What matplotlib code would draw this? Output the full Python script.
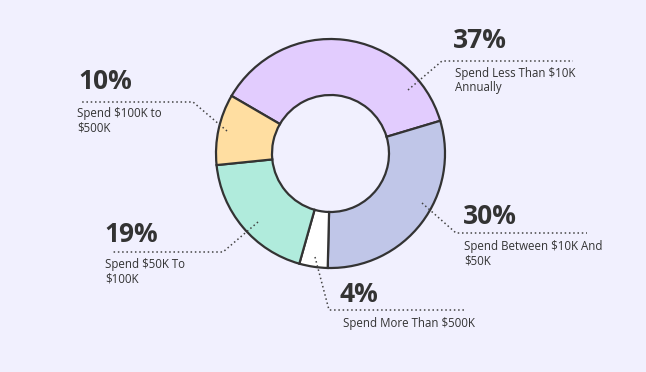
import matplotlib
matplotlib.use("Agg")
import matplotlib.pyplot as plt

# ---- data ----
categories = [
    "Spend Less Than $10K\nAnnually",
    "Spend Between $10K And\n$50K",
    "Spend More Than $500K",
    "Spend $50K To\n$100K",
    "Spend $100K to\n$500K",
]
values = [37, 30, 4, 19, 10]
pct_labels = ["37%", "30%", "4%", "19%", "10%"]
colors = ["#E2CCFE", "#C0C6E8", "#FFFFFF", "#B0EBDC", "#FFDEA1"]

BG = "#F1F0FE"
TXT = "#333333"
W, H = 646, 372

fig = plt.figure(figsize=(W / 100, H / 100), dpi=100, facecolor=BG)
ax = fig.add_axes([0, 0, 1, 1])
ax.set_facecolor(BG)

cx, cy = 330.5, H - 153.5
R = 114.5
ax.pie(values, colors=colors, startangle=149.8, counterclock=False,
       center=(cx, cy), radius=R, frame=True,
       wedgeprops=dict(width=R - 58.5, edgecolor="#333333", linewidth=1.6))
ax.set_xlim(0, W)
ax.set_ylim(0, H)
ax.set_aspect("equal")
ax.axis("off")

def P(x, y):
    return (x, H - y)

# layout (pixel coords from top-left): anchor in slice, elbow, line end,
# pct text pos (x, baseline), label pos (x, top)
layout = [
    dict(anchor=(408, 90), elbow=(442, 61), end=(573, 61), pct=(453, 48), lab=(455, 67)),
    dict(anchor=(422, 203), elbow=(456, 233), end=(587, 233), pct=(463, 224), lab=(464, 240)),
    dict(anchor=(315, 257), elbow=(329, 310), end=(464, 310), pct=(340, 302), lab=(343, 317)),
    dict(anchor=(258, 222), elbow=(223, 252), end=(112, 252), pct=(104, 242), lab=(105, 258)),
    dict(anchor=(227, 131), elbow=(193, 102), end=(81, 102), pct=(78, 89), lab=(77, 107)),
]

for pct, lab, L in zip(pct_labels, categories, layout):
    xs = [L["anchor"][0], L["elbow"][0], L["end"][0]]
    ys = [H - L["anchor"][1], H - L["elbow"][1], H - L["end"][1]]
    ax.plot(xs, ys, color="#444444", linewidth=1.1, linestyle=(0, (1.0, 1.8)),
            zorder=5, solid_capstyle="butt")
    ax.text(*P(*L["pct"]), pct, fontsize=19, fontweight="bold", color=TXT,
            family=["Open Sans", "DejaVu Sans"], ha="left", va="baseline")
    ax.text(*P(*L["lab"]), lab, fontsize=8.3, color=TXT,
            family=["Open Sans", "DejaVu Sans"], ha="left", va="top",
            linespacing=1.15)

fig.savefig("out.png", dpi=100, facecolor=BG)
